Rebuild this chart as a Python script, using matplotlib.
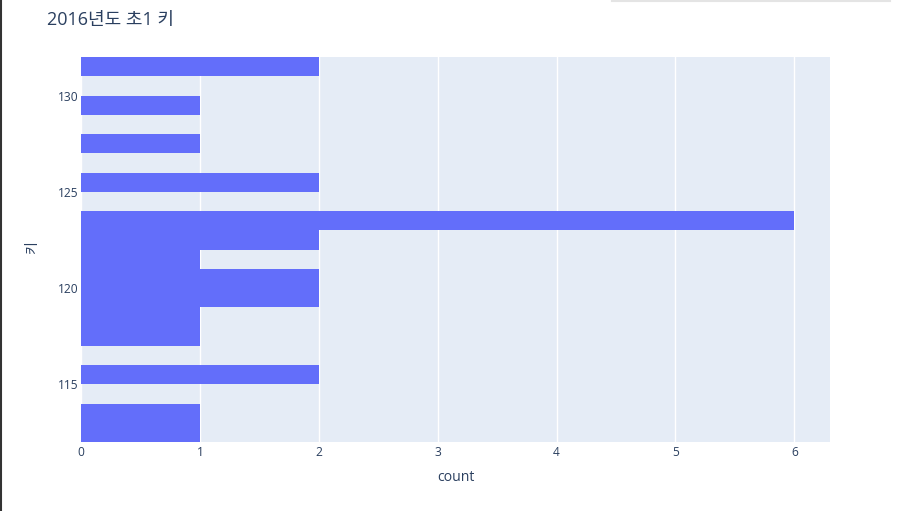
import matplotlib
matplotlib.use("Agg")
import matplotlib.pyplot as plt
from matplotlib.lines import Line2D

plt.rcParams['font.family'] = ['Open Sans', 'Noto Sans CJK KR', 'DejaVu Sans']

# histogram bins (lower edge, width 1) and counts
bin_starts = [112, 113, 114, 115, 116, 117, 118, 119, 120, 121, 122, 123, 124, 125, 126, 127, 128, 129, 130, 131]
counts = [1, 1, 0, 2, 0, 1, 1, 2, 2, 1, 2, 6, 0, 2, 0, 1, 0, 1, 0, 2]
x_ticks = [0, 1, 2, 3, 4, 5, 6]
y_ticks = [115, 120, 125, 130]

text_color = "#2a3f5f"

fig = plt.figure(figsize=(9.08, 5.11), dpi=100)
ax = fig.add_axes([81 / 908, 1 - 442 / 511, 749 / 908, 385 / 511])
ax.set_facecolor("#e5ecf6")

ax.barh(bin_starts, counts, height=1, align="edge", color="#636efa", zorder=3)

ax.set_xlim(0, 6.3)
ax.set_ylim(112, 132)
ax.set_xticks(x_ticks)
ax.set_yticks(y_ticks)
ax.grid(axis="x", color="white", linewidth=1, zorder=1)
ax.set_axisbelow(True)
for s in ax.spines.values():
    s.set_visible(False)
ax.tick_params(length=0, labelsize=8.64, labelcolor=text_color)
ax.tick_params(axis="x", pad=3)
ax.tick_params(axis="y", pad=2)

ax.set_xlabel("count", fontsize=10.08, color=text_color, labelpad=7.5)
fig.text(33 / 908, 1 - 248 / 511, "키", fontsize=10.08, color=text_color,
         rotation=90, ha="center", va="center")

fig.text(47 / 908, 1 - 20 / 511, "2016년도 초1 키", fontsize=13,
         color=text_color, ha="left", va="center")

# screenshot frame artefacts
fig.add_artist(Line2D([0.0011, 0.0011], [0, 1], transform=fig.transFigure,
                      color="#333333", linewidth=1.5))
fig.add_artist(Line2D([612 / 908, 890 / 908], [1 - 1 / 511, 1 - 1 / 511],
                      transform=fig.transFigure, color="#e4e4e4", linewidth=1.5))

fig.savefig("out.png", dpi=100)
